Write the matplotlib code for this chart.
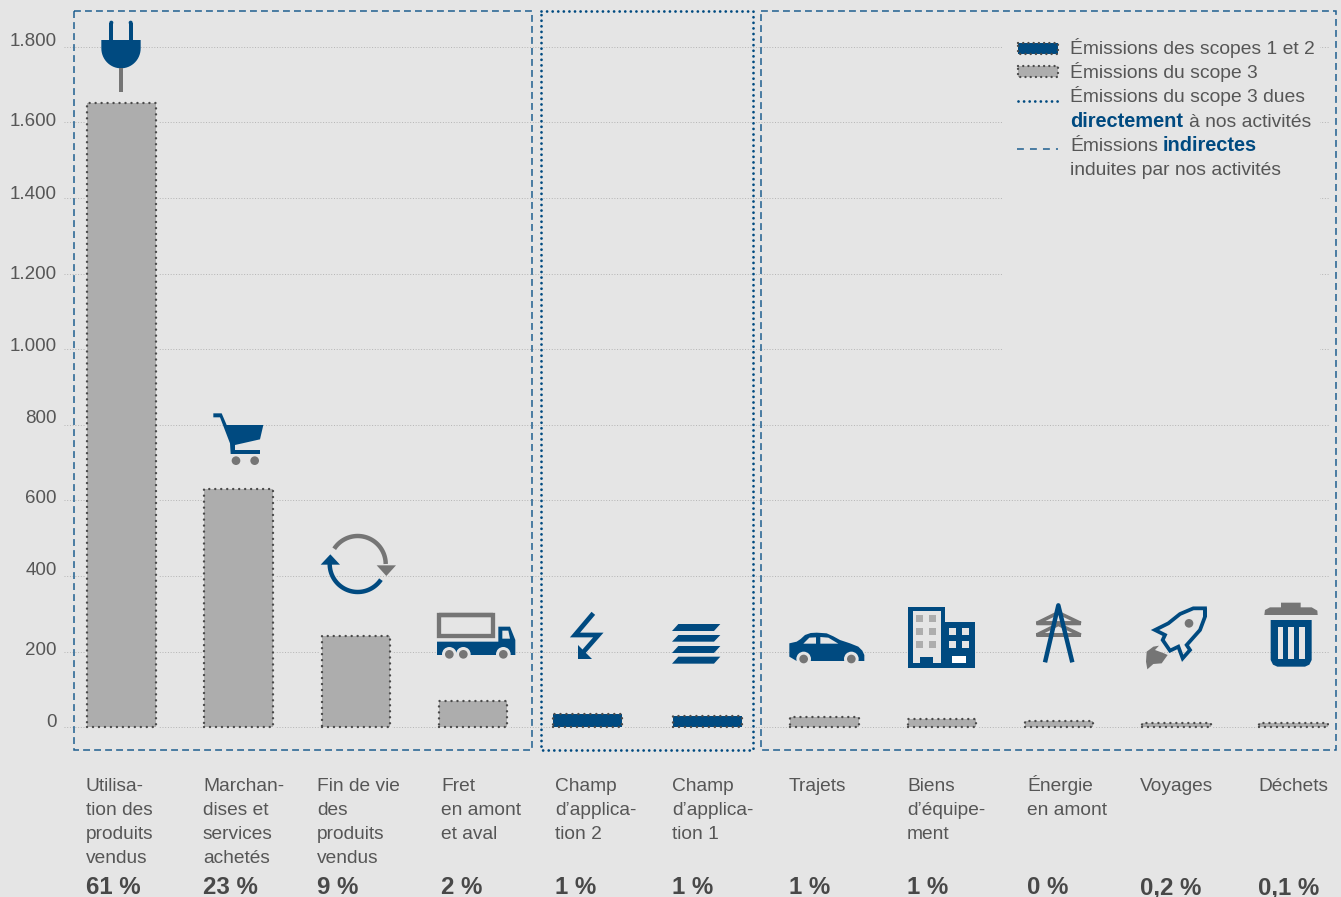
import numpy as np
import matplotlib
matplotlib.use("Agg")
import matplotlib.pyplot as plt
from matplotlib.patches import Circle, Polygon, Rectangle

plt.rcParams['font.family'] = ['Liberation Sans', 'DejaVu Sans']

categories = [
    "Utilisa-\ntion des\nproduits\nvendus",
    "Marchan-\ndises et\nservices\nachetés",
    "Fin de vie\ndes\nproduits\nvendus",
    "Fret\nen amont\net aval",
    "Champ\nd’applica-\ntion 2",
    "Champ\nd’applica-\ntion 1",
    "Trajets",
    "Biens\nd’équipe-\nment",
    "Énergie\nen amont",
    "Voyages",
    "Déchets",
]
emissions = [1652, 629, 242, 69, 35, 30, 27, 23, 16, 12, 11]
scope = [3, 3, 3, 3, 1, 1, 3, 3, 3, 3, 3]
shares = ["61 %", "23 %", "9 %", "2 %", "1 %", "1 %", "1 %", "1 %", "0 %", "0,2 %", "0,1 %"]
y_ticks = [0, 200, 400, 600, 800, 1000, 1200, 1400, 1600, 1800]
y_tick_labels = ["0", "200", "400", "600", "800", "1.000", "1.200", "1.400", "1.600", "1.800"]

BG = "#e5e5e5"
BLUE = "#004a80"
DASH_BLUE = "#1f5f90"
BAR_GREY = "#adadad"
ICON_GREY = "#757575"
DOT_GREY = "#4a4a4a"
TEXT = "#565656"
W, H = 1341, 897

fig = plt.figure(figsize=(W / 100, H / 100), dpi=100, facecolor=BG)

# pixel layout of the value axes
left, right, top, bottom = 64, 1329, 11, 740
x0_px, x_step = 121.5, 117.2
y0_px, y_scale = 727.2, 0.378

ax = fig.add_axes([left / W, 1 - bottom / H, (right - left) / W, (bottom - top) / H])
ax.set_facecolor(BG)
ax.set_xlim((left - x0_px) / x_step, (right - x0_px) / x_step)
ax.set_ylim((y0_px - bottom) / y_scale, (y0_px - top) / y_scale)
for s in ax.spines.values():
    s.set_visible(False)
ax.set_xticks([])
ax.set_yticks(y_ticks)
ax.set_yticklabels([])
ax.tick_params(axis="y", length=0)
ax.yaxis.grid(True, color="#b4b4b4", lw=0.7, ls=(0, (1, 1.8)), zorder=0)
ax.set_axisbelow(True)

x = np.arange(len(emissions), dtype=float)
x[4] -= 0.025
colors = [BLUE if s == 1 else BAR_GREY for s in scope]
ax.bar(x, emissions, width=0.585, color=BG, edgecolor=BG, lw=3, zorder=2)
ax.bar(x, emissions, width=0.585, color=colors, edgecolor=DOT_GREY, lw=1.75,
       ls=(0, (0.01, 2.45)), capstyle="round", zorder=3)

# overlay in pixel coordinates for the frames, icons and captions
px = fig.add_axes([0, 0, 1, 1])
px.set_xlim(0, W)
px.set_ylim(H, 0)
px.axis("off")
px.patch.set_alpha(0)

# the tick numbers are set by hand, they do not sit evenly on their grid lines
tick_baselines = [727.3, 655.3, 575, 502.7, 422.7, 351.3, 279.3, 199, 126, 46]
for lab, by in zip(y_tick_labels, tick_baselines):
    px.text(57, by, lab, fontsize=13.5, color=TEXT, ha="right", va="baseline")

# legend sits on a blank panel that hides the grid
px.add_patch(Rectangle((1002, 20), 318, 365, fc=BG, ec="none"))

# frames around the groups of categories
dashed = (0, (4.5, 2.7))
dotted = (0, (0.01, 2.0))
px.add_patch(Rectangle((74.5, 11.5), 457.5, 738.5, fc="none", ec=DASH_BLUE, lw=1.1, ls=dashed))
px.add_patch(Rectangle((761, 11.5), 575, 738.5, fc="none", ec=DASH_BLUE, lw=1.1, ls=dashed))
px.add_patch(Rectangle((541, 11.5), 212, 738.5, fc="none", ec=BLUE, lw=2.0, ls=dotted, capstyle="round"))


def shape(pts, ox, oy, color=BLUE, zorder=5):
    # icon outlines are traced at 3x scale, ox/oy is the icon origin
    pts = [(ox + a / 3, oy + b / 3) for a, b in pts]
    px.add_patch(Polygon(pts, closed=True, fc=color, ec="none", zorder=zorder))


def stroke(pts, ox, oy, color=BLUE, lw=2.0, closed=False, zorder=5, join="miter"):
    pts = list(pts) + ([pts[0], pts[1]] if closed else [])
    xs = [ox + a / 3 for a, b in pts]
    ys = [oy + b / 3 for a, b in pts]
    px.plot(xs, ys, color=color, lw=lw, solid_capstyle="butt", solid_joinstyle=join, zorder=zorder)


def dot(a, b, r, ox, oy, color=ICON_GREY, zorder=6):
    px.add_patch(Circle((ox + a / 3, oy + b / 3), r / 3, fc=color, ec="none", zorder=zorder))


def box(x1, y1, x2, y2, ox, oy, color=BLUE, zorder=5):
    shape([(x1, y1), (x2, y1), (x2, y2), (x1, y2)], ox, oy, color, zorder)


# plug
box(328, 68, 340, 125, 0, 0)
box(386, 68, 398, 125, 0, 0)
dot(334, 68, 6, 0, 0, BLUE)
dot(392, 68, 6, 0, 0, BLUE)
t = np.linspace(0, np.pi, 30)
shape([(304, 120), (422, 120)] + list(zip(363 + 59 * np.cos(t), 145 + 60 * np.sin(t))), 0, 0)
box(357, 205, 370, 276, 0, 0, ICON_GREY)

# cart
shape([(100, 40), (125, 40), (140, 75), (250, 75), (240, 118), (165, 135), (165, 150), (240, 150),
       (240, 162), (152, 162), (150, 130), (120, 52), (100, 52)], 180, 400)
dot(168, 182, 13, 180, 400)
dot(224, 182, 13, 180, 400)

# recycling arrows
a = np.radians(np.linspace(147, 0, 40))
px.plot(357.7 + 28 * np.cos(a), 564 - 28 * np.sin(a), color=ICON_GREY, lw=3.2, solid_capstyle="butt", zorder=5)
a = np.radians(np.linspace(-34, -180, 40))
px.plot(357.7 + 28 * np.cos(a), 564 - 28 * np.sin(a), color=BLUE, lw=3.2, solid_capstyle="butt", zorder=5)
shape([(590, 496), (648, 496), (619, 528)], 180, 400, ICON_GREY)
shape([(422, 494), (480, 494), (451, 463)], 180, 400)

# truck
stroke([(777, 646), (939, 646), (939, 709), (777, 709)], 180, 400, ICON_GREY, 3.1, closed=True)
shape([(771, 725), (955, 725), (955, 680), (990, 680), (1006, 720), (1006, 765), (771, 765)], 180, 400)
shape([(967, 692), (985, 692), (990, 716), (967, 716)], 180, 400, BG, 6)
for wx in (808, 850, 970):
    dot(wx, 763, 22, 180, 400, BG, 6)
    dot(wx, 763, 13, 180, 400, ICON_GREY, 7)

# lightning
stroke([(190, 70), (135, 135), (205, 135), (155, 192)], 530, 590, BLUE, 3.4)
shape([(145, 165), (145, 207), (187, 207)], 530, 590)

# stacked layers
for y1, y2 in [(102, 123), (135, 155), (168, 189), (200, 221)]:
    shape([(445, y1), (571, y1), (552, y2), (426, y2)], 530, 590)

# car
shape([(778, 160), (800, 155), (812, 147), (825, 135), (842, 129), (860, 128), (890, 130), (910, 139),
       (930, 150), (960, 160), (985, 170), (997, 182), (1003, 195), (1003, 213), (800, 213), (778, 200)],
      530, 590)
shape([(820, 161), (838, 143), (858, 142), (858, 161)], 530, 590, BG, 6)
shape([(871, 141), (895, 143), (925, 161), (871, 161)], 530, 590, BG, 6)
for wx in (821, 964):
    dot(wx, 207, 22, 530, 590, BG, 6)
    dot(wx, 207, 13, 530, 590, ICON_GREY, 7)

# building
box(1134, 50, 1245, 233, 530, 590)
box(1148, 62, 1232, 220, 530, 590, BG, 6)
box(1170, 200, 1210, 220, 530, 590, BLUE, 7)
box(1245, 96, 1335, 233, 530, 590)
for wy in (75, 114, 153):
    for wx in (1158, 1197):
        box(wx, wy, wx + 21, wy + 21, 530, 590, BAR_GREY, 7)
for wy in (115, 154):
    for wx in (1258, 1297):
        box(wx, wy, wx + 19, wy + 19, 530, 590, BG, 7)
box(1266, 198, 1308, 218, 530, 590, "white", 7)

# pylon
stroke([(140, 100), (272, 100), (205, 68)], 990, 590, ICON_GREY, 2.6, closed=True, join="bevel")
stroke([(140, 135), (272, 135), (205, 103)], 990, 590, ICON_GREY, 2.6, closed=True, join="bevel")
stroke([(165, 217), (205, 46), (247, 217)], 990, 590, BLUE, 3.2, zorder=6, join="round")

# rocket
stroke([(645, 55), (645, 80), (630, 120), (590, 165), (600, 180), (578, 205), (565, 170), (540, 182),
        (518, 150), (525, 135), (495, 120), (535, 100), (570, 72), (610, 55)], 990, 590, BLUE, 2.7, closed=True)
dot(597, 100, 13, 990, 590)
shape([(470, 185), (490, 170), (507, 167), (495, 180), (522, 190), (533, 195), (515, 220), (490, 222),
       (472, 238), (468, 215)], 990, 590, ICON_GREY)

# bin
shape([(823, 75), (825, 60), (840, 52), (873, 52), (873, 38), (932, 38), (932, 52), (965, 52), (982, 62),
       (983, 75)], 990, 590, ICON_GREY)
shape([(842, 90), (965, 90), (965, 210), (958, 224), (945, 230), (862, 230), (849, 224), (842, 210)], 990, 590)
for sx in (863, 895, 928):
    box(sx, 110, sx + 16, 208, 990, 590, BG, 6)

# captions under the bars
label_left = [86, 203, 317, 441, 555, 672, 789, 907, 1027, 1140, 1258]
for lx, cat, share in zip(label_left, categories, shares):
    for i, line in enumerate(cat.split("\n")):
        px.text(lx, 791 + 24 * i, line, fontsize=13.8, color=TEXT, va="baseline")
    px.text(lx, 894, share, fontsize=17.3, fontweight="bold", color="#484848", va="baseline")

# legend
for sy, c in [(43, BLUE), (66, BAR_GREY)]:
    px.add_patch(Rectangle((1018, sy), 40, 11, fc=c, ec=DOT_GREY, lw=1.7,
                           ls=(0, (0.01, 2.2)), capstyle="round", zorder=5))
px.plot([1018, 1058], [101, 101], color=BLUE, lw=2.0, ls=dotted, dash_capstyle="round")
px.plot([1017, 1058], [149.5, 149.5], color=DASH_BLUE, lw=1.1, ls=(0, (4.5, 4)))

legend_size = 13.85
legend_bold = 14.4
for by, txt in [(54, "Émissions des scopes 1 et 2"), (78, "Émissions du scope 3"),
                (102, "Émissions du scope 3 dues"), (151, "Émissions"), (175, "induites par nos activités")]:
    px.text(1070, by, txt, fontsize=legend_size, color=TEXT, va="baseline")
px.text(1070, 127, "directement", fontsize=legend_bold, color=BLUE, fontweight="bold", va="baseline")
px.text(1189, 127, "à nos activités", fontsize=legend_size, color=TEXT, va="baseline")
px.text(1163, 151, "indirectes", fontsize=legend_bold, color=BLUE, fontweight="bold", va="baseline")

fig.savefig("out.png", dpi=100, facecolor=BG)
